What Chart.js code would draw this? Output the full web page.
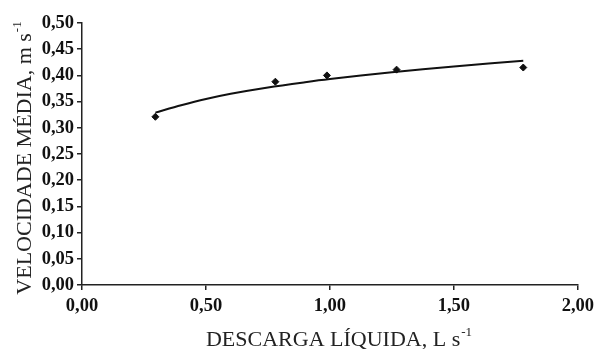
<!DOCTYPE html>
<html>
<head>
<meta charset="utf-8">
<script src="https://cdn.jsdelivr.net/npm/chart.js@4/dist/chart.umd.min.js"></script>
<style>
html,body{margin:0;padding:0;background:#fff;}
#wrap{width:599px;height:349px;position:relative;}
</style>
</head>
<body>
<div id="wrap"><canvas id="c" width="599" height="349"></canvas></div>
<script>
// observed points
const discharge = [0.296, 0.78, 0.988, 1.269, 1.78];
const velocity  = [0.321, 0.388, 0.400, 0.411, 0.415];
// trend curve
const curveX = [0.296, 0.40, 0.50, 0.60, 0.75, 0.90, 1.00, 1.25, 1.50, 1.78];
const curveY = [0.329, 0.343, 0.355, 0.365, 0.377, 0.387, 0.393, 0.406, 0.417, 0.428];
// axis ticks
const xTicks = [0, 0.5, 1.0, 1.5, 2.0];
const yTicks = [0, 0.05, 0.10, 0.15, 0.20, 0.25, 0.30, 0.35, 0.40, 0.45, 0.50];
const xTitle = "DESCARGA LÍQUIDA, L s";
const yTitle = "VELOCIDADE MÉDIA, m s";
const supText = "-1";

const fmt = v => v.toFixed(2).replace('.', ',');

const titlePlugin = {
  id: 'titles',
  afterDraw(chart) {
    const ctx = chart.ctx;
    ctx.save();
    ctx.fillStyle = '#222';
    const main = '22px "Liberation Serif"';
    const sup = '13px "Liberation Serif"';
    // X title
    ctx.font = main;
    const w1 = ctx.measureText(xTitle).width;
    ctx.font = sup;
    const w2 = ctx.measureText(supText).width;
    let cx = 339;
    let x0 = cx - (w1 + w2 + 1) / 2;
    ctx.textBaseline = 'alphabetic';
    ctx.textAlign = 'left';
    ctx.font = main;
    ctx.fillText(xTitle, x0, 346);
    ctx.font = sup;
    ctx.fillText(supText, x0 + w1 + 1, 336);
    // Y title
    ctx.translate(31, 158);
    ctx.rotate(-Math.PI / 2);
    ctx.font = main;
    const h1 = ctx.measureText(yTitle).width;
    ctx.font = sup;
    const h2 = ctx.measureText(supText).width;
    let y0 = -(h1 + h2 + 1) / 2;
    ctx.font = main;
    ctx.fillText(yTitle, y0, 0);
    ctx.font = sup;
    ctx.fillText(supText, y0 + h1 + 1, -10);
    ctx.restore();
  }
};

new Chart(document.getElementById('c'), {
  type: 'scatter',
  data: {
    datasets: [
      {
        data: curveX.map((x, i) => ({x, y: curveY[i]})),
        showLine: true,
        borderColor: '#111',
        borderWidth: 2,
        borderCapStyle: 'butt',
        pointRadius: 0,
        tension: 0.3,
        fill: false
      },
      {
        data: discharge.map((x, i) => ({x, y: velocity[i]})),
        showLine: false,
        pointStyle: 'rectRot',
        pointRadius: 3.5,
        backgroundColor: '#111',
        borderColor: '#111',
        borderWidth: 1
      }
    ]
  },
  options: {
    responsive: false,
    animation: false,
    devicePixelRatio: 1,
    layout: { padding: { top: 23, right: 16, left: 0, bottom: 0 } },
    plugins: { legend: { display: false }, tooltip: { enabled: false } },
    scales: {
      x: {
        type: 'linear', min: 0, max: 2,
        afterFit(s) { s.height = 64; },
        afterBuildTicks(s) { s.ticks = xTicks.map(v => ({value: v})); },
        grid: { display: true, drawOnChartArea: false, drawTicks: true, tickLength: 5, color: '#222', lineWidth: 1.5 },
        border: { display: true, color: '#222', width: 1.5 },
        ticks: {
          padding: 5,
          color: '#111',
          font: { family: '"Liberation Serif"', size: 18.5, weight: 'bold' },
          callback: v => fmt(v)
        }
      },
      y: {
        type: 'linear', min: 0, max: 0.5,
        afterFit(s) { s.width = 82; },
        afterBuildTicks(s) { s.ticks = yTicks.map(v => ({value: v})); },
        grid: { display: true, drawOnChartArea: false, drawTicks: true, tickLength: 5, color: '#222', lineWidth: 1.5 },
        border: { display: true, color: '#222', width: 1.5 },
        ticks: {
          padding: 3,
          color: '#111',
          font: { family: '"Liberation Serif"', size: 18.5, weight: 'bold' },
          callback: v => fmt(v)
        }
      }
    }
  },
  plugins: [titlePlugin]
});
</script>
</body>
</html>
